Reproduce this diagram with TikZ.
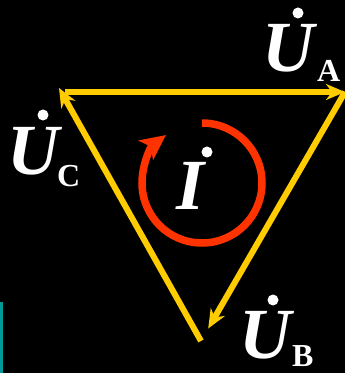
\documentclass[tikz,border=0pt]{standalone}
\usepackage{fontspec}
\setmainfont{Liberation Serif}
\usepackage{tikz}
\usetikzlibrary{arrows.meta,positioning,calc}
\definecolor{phasecol}{RGB}{255,204,0}
\definecolor{loopcol}{RGB}{255,51,0}
\definecolor{barcol}{RGB}{0,153,153}
\tikzset{
  phasor/.style={line width=6pt, phasecol, -{Stealth[length=19pt,width=16pt,inset=6pt]}},
  loopcur/.style={line width=7.5pt, loopcol, -{Stealth[length=25pt,width=24pt,inset=6pt]}},
  vlabel/.style={text=white, inner sep=0pt, anchor=base west,
                 font=\fontsize{72}{72}\selectfont\bfseries\itshape},
  sublabel/.style={text=white, inner sep=0pt, anchor=base west,
                   font=\fontsize{32}{32}\selectfont\bfseries},
  vdot/.style={circle, fill=white, inner sep=0pt, minimum size=11pt},
}
\begin{document}
\begin{tikzpicture}[x=1pt,y=1pt,line cap=butt]
  \fill[black] (0,0) rectangle (345,373);
  \useasboundingbox (0,0) rectangle (345,373);
  % ---- triangle corners ----
  \coordinate (C) at (59,285);
  \coordinate (A) at (345,281);
  \coordinate (B) at (201,32);
  \coordinate (Cs) at ($(C)+(6,-4)$);
  \coordinate (Bt) at ($(A)!0.95!(B)$);
  % ---- phasors ----
  \draw[phasor] (Cs) -- (A);
  \draw[phasor] (A) -- (Bt);
  \draw[phasor] (B) -- (C);
  % ---- circulating current ----
  \draw[loopcur] (202,250) arc[start angle=90, end angle=-233, radius=60];
  % ---- labels ----
  \node[vlabel] (UA) at (262,301) {U};
  \node[sublabel] (UAs) at (317,291) {A};
  \node[vdot] (dA) at (298,360) {};
  \node[vlabel] (UC) at (7,198) {U};
  \node[sublabel] (UCs) at (57,186) {C};
  \node[vdot] (dC) at (43,258) {};
  \node[vlabel] (UB) at (239,15) {U};
  \node[sublabel] (UBs) at (292,6) {B};
  \node[vdot] (dB) at (273,73) {};
  \node[vlabel] (I) at (176,163) {I};
  \node[vdot] (dI) at (207,221) {};
  % ---- side bar ----
  \fill[barcol] (0,0) rectangle (3,71);
\end{tikzpicture}
\end{document}
